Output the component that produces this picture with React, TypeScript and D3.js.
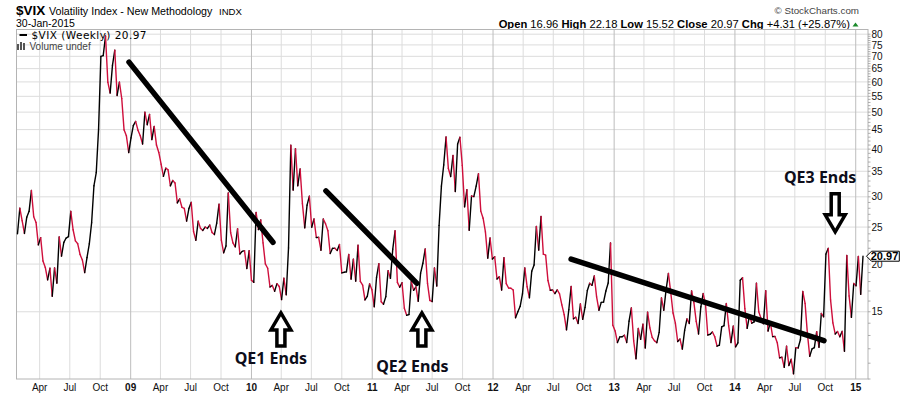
import React from "react";
import * as d3 from "d3";

// ---- Weekly closes of $VIX (Friday of each week) ----
const vix2008 = [24.02, 28.01, 25.99, 24.06, 26.54, 27.49, 31.16, 26.62, 25.71, 22.45, 23.46, 20.37, 19.6, 18.18, 19.5, 16.47, 19.55, 17.83, 23.56, 20.99, 22.8, 23.4, 23.6, 27.49, 24.6, 23.0, 22.6, 21.2, 20.5, 19.0, 20.8, 22.6, 25.66, 32.07, 34.74, 45.14, 69.95, 70.33, 79.13, 59.89, 56.1, 66.31, 72.67, 55.28, 59.93, 54.28, 44.93, 43.38];
const vix2009 = [39.19, 42.82, 46.11, 47.27, 44.84, 43.37, 41.25, 49.95, 46.35, 49.33, 42.36, 45.89, 41.0, 39.2, 36.53, 33.94, 35.67, 35.3, 32.05, 33.12, 32.63, 28.92, 29.62, 28.15, 27.99, 25.93, 27.95, 29.02, 24.34, 23.09, 25.9, 24.8, 24.5, 25.0, 24.8, 25.3, 24.2, 23.9, 25.6, 28.7, 23.1, 21.4, 22.3, 30.69, 24.19, 22.73, 22.19, 24.74, 21.25, 21.59, 21.68, 19.47];
const vix2010 = [21.68, 18.13, 17.91, 27.31, 24.62, 26.11, 22.73, 20.02, 19.5, 17.42, 17.58, 16.97, 17.77, 17.47, 16.14, 18.36, 16.62, 22.05, 40.95, 31.24, 40.1, 32.07, 35.48, 28.79, 24.88, 28.53, 30.12, 24.98, 26.25, 23.47, 23.5, 21.74, 26.24, 25.49, 24.45, 21.31, 21.99, 22.01, 21.71, 22.5, 18.96, 19.03, 19.08, 21.2, 18.26, 20.61, 18.04, 22.4, 18.01, 17.61, 16.11, 16.47, 17.75];
const vix2011 = [17.14, 15.46, 18.47, 20.04, 15.93, 15.69, 16.43, 19.22, 18.35, 21.88, 24.44, 17.91, 17.4, 17.87, 15.32, 14.69, 14.75, 18.0, 17.07, 17.43, 15.98, 18.9, 20.1, 21.9, 17.8, 16.06, 15.95, 19.53, 17.52, 25.25, 32.0, 36.36, 43.05, 35.59, 33.92, 38.52, 30.98, 41.25, 42.96, 36.27, 28.24, 31.32, 24.53, 30.16, 30.04, 32.0, 34.47, 27.52, 26.38, 24.29, 20.73, 23.4];
const vix2012 = [20.63, 20.91, 18.28, 18.53, 17.1, 20.79, 17.78, 17.31, 17.29, 17.11, 14.47, 15.0, 15.5, 16.7, 19.55, 17.44, 16.32, 19.16, 19.89, 25.1, 21.76, 26.66, 21.23, 21.11, 18.11, 17.08, 17.1, 16.74, 17.11, 16.7, 15.64, 14.74, 13.45, 15.18, 17.47, 14.38, 14.51, 13.98, 15.73, 14.33, 15.4, 17.06, 17.81, 17.59, 18.61, 16.41, 15.14, 15.87, 15.9, 17.0, 17.84, 22.72];
const vix2013 = [13.83, 13.36, 12.46, 12.89, 12.9, 13.02, 12.46, 14.17, 15.36, 12.59, 11.3, 13.57, 12.7, 13.92, 12.06, 14.97, 13.61, 12.85, 12.59, 12.45, 13.25, 16.3, 15.14, 17.15, 18.9, 16.86, 14.89, 14.01, 12.54, 12.72, 11.98, 13.41, 14.37, 13.98, 17.01, 15.85, 14.16, 13.12, 15.46, 16.74, 15.72, 13.04, 13.09, 13.28, 12.9, 12.19, 12.26, 13.7, 13.79, 15.76, 13.79, 12.46];
const vix2014 = [13.76, 12.14, 12.44, 18.14, 18.41, 15.29, 13.57, 14.68, 14.0, 14.11, 17.82, 15.0, 14.41, 13.96, 17.03, 13.36, 14.06, 12.91, 12.92, 12.44, 11.36, 11.4, 10.73, 12.18, 10.85, 11.26, 10.32, 12.08, 12.06, 12.69, 16.95, 15.77, 13.15, 11.47, 11.99, 12.09, 13.31, 12.11, 14.85, 14.55, 21.24, 21.99, 16.11, 14.03, 13.12, 13.31, 12.9, 13.33, 11.82, 21.08, 16.49, 14.5];
const vix2015 = [17.79, 17.55, 20.95, 16.66, 20.97];

// first weekly bar of each block
const blockStarts = ["2008-02-01", "2009-01-02", "2010-01-01", "2011-01-07", "2012-01-06", "2013-01-04", "2014-01-03", "2015-01-02"];
const blockValues = [vix2008, vix2009, vix2010, vix2011, vix2012, vix2013, vix2014, vix2015];

const yTickValues = [15, 20, 25, 30, 35, 40, 45, 50, 55, 60, 65, 70, 75, 80];
const yDomain = [10, 82.3];

const headerStats = [
  { label: "Open", value: "16.96" },
  { label: "High", value: "22.18" },
  { label: "Low", value: "15.52" },
  { label: "Close", value: "20.97" },
  { label: "Chg", value: "+4.31 (+25.87%)" },
];

// annotations (data coordinates)
const trendLines = [
  { from: ["2009-01-03", 67.6], to: ["2010-03-14", 22.8] },
  { from: ["2010-08-21", 31.1], to: ["2011-05-23", 17.8] },
  { from: ["2012-08-31", 20.6], to: ["2014-10-04", 12.6] },
];
const qeArrows = [
  { label: "QE1 Ends", date: "2010-04-07", value: 14.9, dir: "up", dx: -10, dy: 51 },
  { label: "QE2 Ends", date: "2011-06-07", value: 14.9, dir: "up", dx: -9.5, dy: 59 },
  { label: "QE3 Ends", date: "2014-11-07", value: 24.3, dir: "down", dx: -15, dy: -49 },
];

const W = 900;
const H = 396;
const PL = 16.5, PR = 868, PT = 29.5, PB = 379;
const RED = "#cf0f3c";
const ARIAL = "Arial, 'Liberation Sans', sans-serif";

const parse = d3.timeParse("%Y-%m-%d");

export default function App() {
  const data = React.useMemo(() => {
    const out: { date: Date; value: number }[] = [];
    blockStarts.forEach((s, b) => {
      const start = parse(s) as Date;
      blockValues[b].forEach((v, i) => out.push({ date: d3.timeDay.offset(start, 7 * i), value: v }));
    });
    return out;
  }, []);

  const x = d3.scaleTime().domain([data[0].date, data[data.length - 1].date]).range([17.5, 863]);
  const y = d3.scaleLog().domain(yDomain).range([PB, PT]);

  const quarterTicks = d3.timeMonth.every(3)!.range(new Date(2008, 3, 1), new Date(2015, 1, 1));
  const tickX = (d: Date) => x(d3.timeDay.offset(d, 7));
  const minorTicks = d3.range(10, 81);

  const last = data[data.length - 1];
  const ly = y(last.value);

  const arrowPath = (dir: string) => {
    const s = dir === "up" ? 1 : -1;
    const hw = 10, hh = 17, sw = 4, total = dir === "up" ? 33 : 38;
    const pts = [[0, 0], [hw, hh], [sw, hh], [sw, total], [-sw, total], [-sw, hh], [-hw, hh]];
    return "M" + pts.map(p => `${p[0]},${p[1] * s}`).join("L") + "Z";
  };

  return (
    <svg width={W} height={H} style={{ position: "absolute", left: 0, top: 0, background: "#fff" }} fontFamily={ARIAL}>
      <rect x={0} y={0} width={W} height={H} fill="#fff" />
      {/* header */}
      <text x={16} y={15} fontSize={13.5} fontWeight="bold" fill="#000">$VIX</text>
      <text x={49} y={15} fontSize={10.7} fill="#000">Volatility Index - New Methodology</text>
      <text x={219} y={15} fontSize={9.6} fill="#000">INDX</text>
      <text x={16} y={27} fontSize={10.5} fill="#000">30-Jan-2015</text>
      <text x={859} y={14} fontSize={9.8} fill="#444" textAnchor="end">© StockCharts.com</text>
      <text x={850} y={28} fontSize={11.2} fill="#000" textAnchor="end">
        {headerStats.map((s, i) => (
          <React.Fragment key={i}>
            <tspan fontWeight="bold">{(i ? "  " : "") + s.label}</tspan>
            <tspan>{" " + s.value}</tspan>
          </React.Fragment>
        ))}
      </text>
      <path d="M852.5,26.5 L858.5,26.5 L855.5,22.5 Z" fill="#1a8a2a" />

      {/* grid */}
      {yTickValues.map(v => (
        <line key={"h" + v} x1={PL} x2={PR} y1={y(v)} y2={y(v)} stroke="#dcdcdc" strokeWidth={1} />
      ))}
      {quarterTicks.map((d, i) => (
        <line key={"v" + i} x1={tickX(d)} x2={tickX(d)} y1={PT} y2={PB}
          stroke={d.getMonth() === 0 ? "#bdbdbd" : "#dcdcdc"} strokeWidth={1} />
      ))}
      <rect x={PL} y={PT} width={PR - PL} height={PB - PT} fill="none" stroke="#b4b4b4" strokeWidth={1} />

      {/* x labels */}
      {quarterTicks.map((d, i) => (
        <text key={"xl" + i} x={tickX(d)} y={391} fontSize={10} textAnchor="middle"
          fontWeight={d.getMonth() === 0 ? "bold" : "normal"} fill="#111">
          {d.getMonth() === 0 ? d3.timeFormat("%y")(d) : d3.timeFormat("%b")(d)}
        </text>
      ))}

      {/* y axis */}
      {minorTicks.map(v => (
        <line key={"m" + v} x1={PR} x2={PR + 2.5} y1={y(v)} y2={y(v)} stroke="#9a9a9a" strokeWidth={0.8} />
      ))}
      {yTickValues.map(v => (
        <text key={"yl" + v} x={871.5} y={y(v)} dy="0.36em" fontSize={10} fill="#111">{v}</text>
      ))}

      {/* price line */}
      <g strokeWidth={1.4} strokeLinecap="round" fill="none">
        {data.slice(1).map((d, i) => {
          const p = data[i];
          return (
            <line key={i} x1={x(p.date)} y1={y(p.value)} x2={x(d.date)} y2={y(d.value)}
              stroke={d.value >= p.value ? "#000" : RED} />
          );
        })}
      </g>

      {/* legend */}
      <line x1={19.5} x2={27} y1={35} y2={35} stroke="#000" strokeWidth={2} />
      <text x={31.5} y={38.5} fontSize={10.5} textLength={115} lengthAdjust="spacing"
        fontFamily="'DejaVu Sans', Verdana, sans-serif" fill="#000">$VIX (Weekly) 20.97</text>
      <g fill="#555">
        <rect x={17} y={44} width={2} height={6} />
        <rect x={20} y={42} width={2} height={8} />
        <rect x={23} y={43} width={2} height={7} />
      </g>
      <text x={29.5} y={49.5} fontSize={10} fill="#444">Volume undef</text>

      {/* annotations */}
      {trendLines.map((t, i) => (
        <line key={"t" + i}
          x1={x(parse(t.from[0] as string) as Date)} y1={y(t.from[1] as number)}
          x2={x(parse(t.to[0] as string) as Date)} y2={y(t.to[1] as number)}
          stroke="#000" strokeWidth={5.5} strokeLinecap="round" />
      ))}
      {qeArrows.map((a, i) => {
        const tx = x(parse(a.date) as Date);
        const ty = y(a.value);
        return (
          <g key={"a" + i}>
            <path d={arrowPath(a.dir)} transform={`translate(${tx},${ty})`} fill="#fff" stroke="#000" strokeWidth={3.5} strokeLinejoin="miter" />
            <text x={tx + a.dx} y={ty + a.dy} textAnchor="middle" fontSize={16} fontWeight="bold"
              fontFamily="'Noto Sans', 'Open Sans', sans-serif" fill="#0d0d1a">{a.label}</text>
          </g>
        );
      })}

      {/* last value callout */}
      <path d={`M${PR - 1.5},${ly} L${PR + 3.5},${ly - 5} L899.3,${ly - 5} L899.3,${ly + 5} L${PR + 3.5},${ly + 5} Z`}
        fill="#fff" stroke="#000" strokeWidth={1} />
      <text x={884.5} y={ly} dy="0.36em" textAnchor="middle" fontSize={11} fontWeight="bold" fill="#000">
        {last.value.toFixed(2)}
      </text>
    </svg>
  );
}
